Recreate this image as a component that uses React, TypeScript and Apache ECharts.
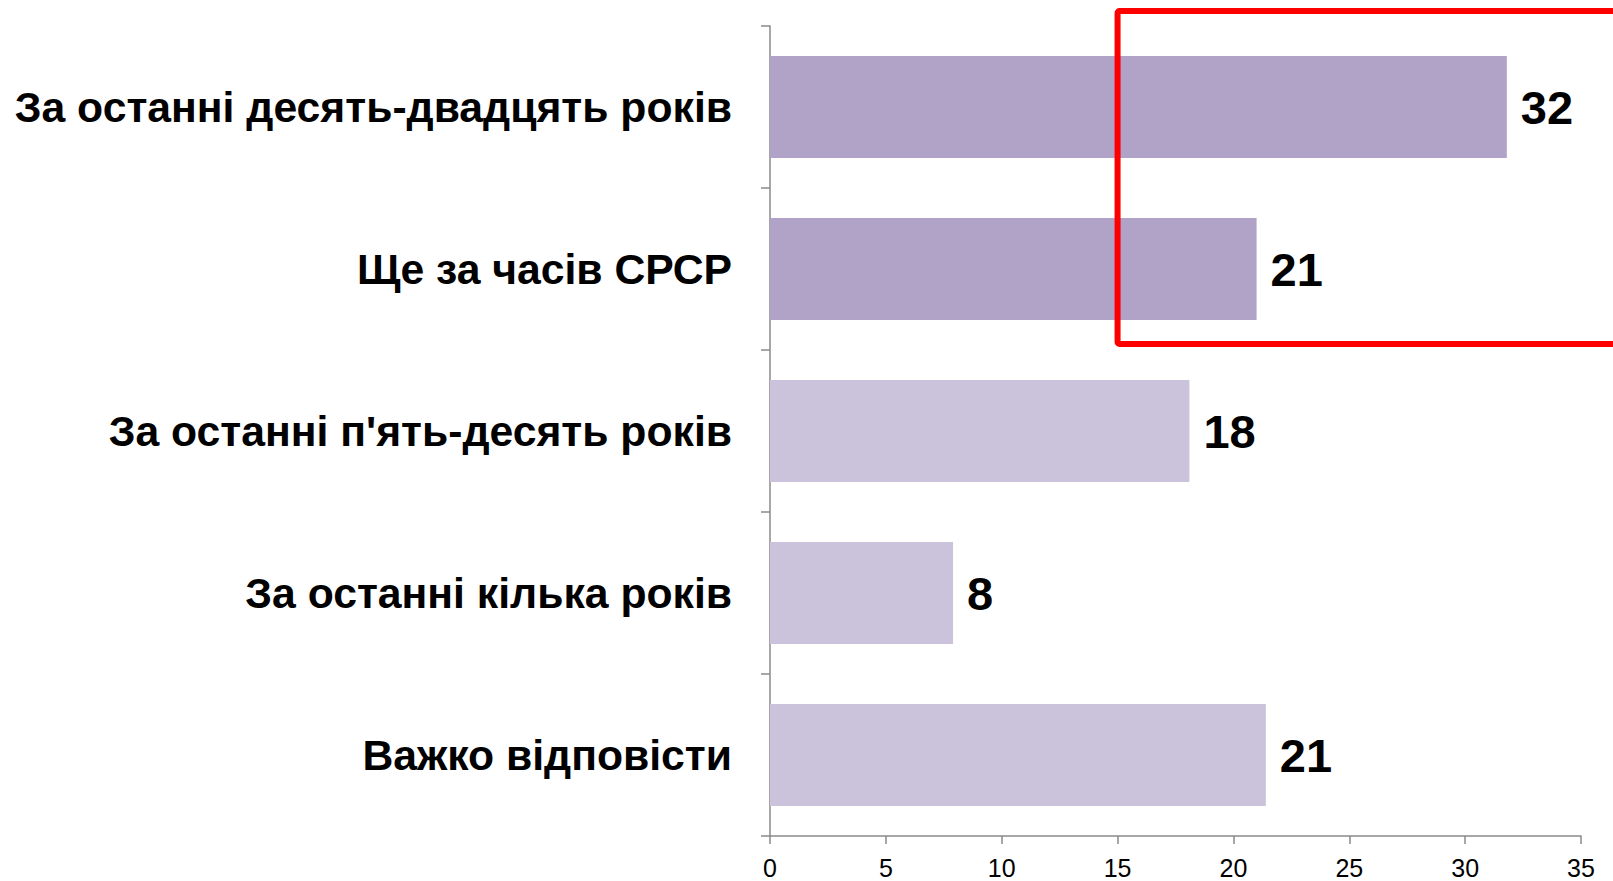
import React, { useEffect, useRef } from "react";
import * as echarts from "echarts";

const categories = [
  "За останні десять-двадцять років",
  "Ще за часів СРСР",
  "За останні п'ять-десять років",
  "За останні кілька років",
  "Важко відповісти",
];
const values = [31.8, 21.0, 18.1, 7.9, 21.4];
const valueLabels = ["32", "21", "18", "8", "21"];
const barColors = ["#B1A3C7", "#B1A3C7", "#CBC2DB", "#CBC2DB", "#CBC2DB"];
const xTicks = [0, 5, 10, 15, 20, 25, 30, 35];

export default function App() {
  const ref = useRef<HTMLDivElement>(null);
  useEffect(() => {
    if (!ref.current) return;
    const chart = echarts.init(ref.current, null, { renderer: "svg" });
    const axisColor = "#8A8A8A";
    chart.setOption({
      animation: false,
      backgroundColor: "#ffffff",
      grid: { left: 770, right: 32, top: 26, bottom: 45, containLabel: false },
      xAxis: {
        type: "value",
        min: xTicks[0],
        max: xTicks[xTicks.length - 1],
        interval: 5,
        splitLine: { show: false },
        axisLine: { show: true, lineStyle: { color: axisColor, width: 1.5 } },
        axisTick: { show: true, length: 8, lineStyle: { color: axisColor, width: 1.5 } },
        axisLabel: {
          margin: 19,
          fontSize: 25,
          color: "#000",
          fontFamily: "Arial, 'Liberation Sans', sans-serif",
        },
      },
      yAxis: {
        type: "category",
        data: categories,
        inverse: true,
        axisLine: { show: true, lineStyle: { color: axisColor, width: 1.5 } },
        axisTick: { show: true, length: 9, lineStyle: { color: axisColor, width: 1.5 } },
        axisLabel: {
          margin: 38,
          fontSize: 42.7,
          fontWeight: "bold",
          color: "#000",
          fontFamily: "Arial, 'Liberation Sans', sans-serif",
        },
      },
      series: [
        {
          type: "bar",
          barCategoryGap: "37%",
          data: values.map((v, i) => ({
            value: v,
            itemStyle: { color: barColors[i] },
            label: { formatter: valueLabels[i] },
          })),
          label: {
            show: true,
            position: "right",
            distance: 14,
            fontSize: 47,
            fontWeight: "bold",
            color: "#000",
            fontFamily: "Arial, 'Liberation Sans', sans-serif",
          },
        },
      ],
    });
    const left = chart.convertToPixel({ xAxisIndex: 0 }, 15) as number;
    chart.setOption({
      graphic: [
        {
          type: "rect",
          shape: { x: left, y: 11, width: 1613 - left + 20, height: 333, r: 2 },
          style: { fill: "none", stroke: "#FF0000", lineWidth: 6 },
          z: 100,
        },
      ],
    });
    return () => chart.dispose();
  }, []);
  return (
    <div
      ref={ref}
      style={{ position: "fixed", left: 0, top: 0, width: 1613, height: 881 }}
    />
  );
}
